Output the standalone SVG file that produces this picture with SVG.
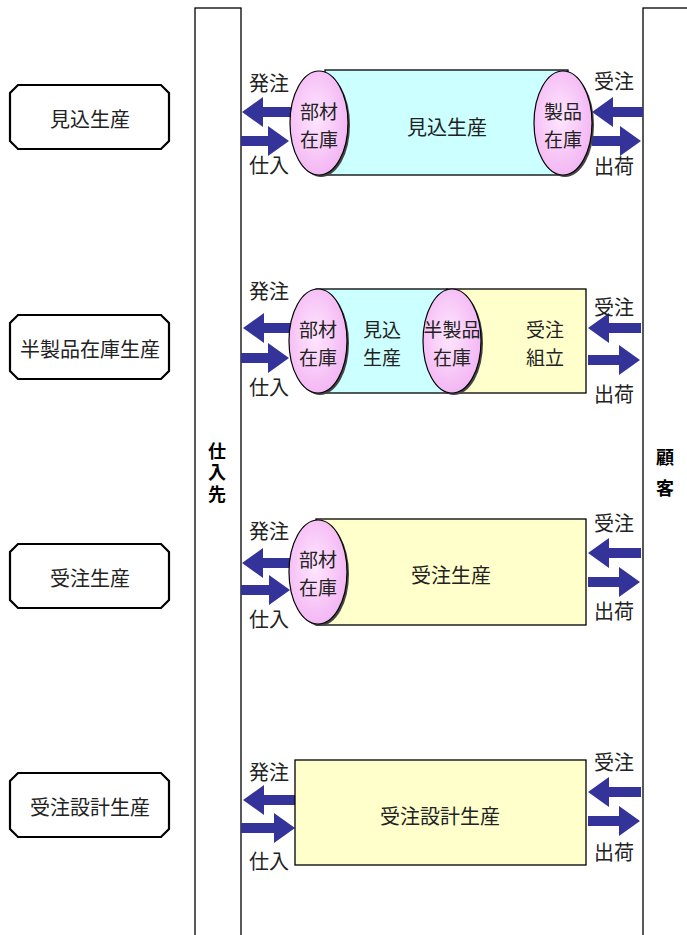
<svg xmlns="http://www.w3.org/2000/svg" width="687" height="935" viewBox="0 0 687 935">
<style>
text{font-family:"Noto Sans CJK JP","Noto Sans CJK SC",sans-serif;font-size:20px;fill:#222;text-anchor:middle;dominant-baseline:central}
.s{font-size:19px}
.b{font-weight:bold;fill:#000;font-size:18px;writing-mode:vertical-rl;text-anchor:start}
.col{fill:#fff;stroke:#000;stroke-width:1.3}
.oct{fill:#fff;stroke:#000;stroke-width:2.2}
.cy{fill:#ccffff;stroke:#000;stroke-width:1.3}
.ye{fill:#ffffcc;stroke:#000;stroke-width:1.3}
.ar{fill:#333399}
.el{fill:url(#pk);stroke:#000;stroke-width:1.2}
.sh{fill:#444}
</style>
<defs>
<radialGradient id="pk" cx="0.45" cy="0.45" r="0.6">
<stop offset="0" stop-color="#ffe6ff"/>
<stop offset="1" stop-color="#f2b3f2"/>
</radialGradient>
</defs>
<rect width="687" height="935" fill="#fff"/>
<g id="supplier"><rect class="col" x="195" y="8" width="46" height="940"/>
<text class="b" x="217" y="442" letter-spacing="3.5">仕入先</text></g>
<g id="customer"><rect class="col" x="643" y="8" width="60" height="940"/>
<text class="b" x="665" y="448" letter-spacing="13">顧客</text></g>

<g id="label1"><path class="oct" d="M18 85 H161 L169 93 V141 L161 149 H18 L10 141 V93 Z"/><text x="90" y="118">見込生産</text></g>
<g id="label2"><path class="oct" d="M18 315 H161 L169 323 V371 L161 379 H18 L10 371 V323 Z"/><text x="90" y="348" font-size="21">半製品在庫生産</text></g>
<g id="label3"><path class="oct" d="M18 544 H161 L169 552 V600 L161 608 H18 L10 600 V552 Z"/><text x="90" y="577">受注生産</text></g>
<g id="label4"><path class="oct" d="M18 773 H161 L169 781 V829 L161 837 H18 L10 829 V781 Z"/><text x="90" y="806">受注設計生産</text></g>

<g id="connectors">
<path class="ar" d="M242 112 l21 -15 v10 H294 v10 H263 v10 Z"/>
<path class="ar" d="M289 141 l-21 -15 v10 H241 v10 H268 v10 Z"/>
<path class="ar" d="M592 112 l21 -15 v10 H643 v10 H613 v10 Z"/>
<path class="ar" d="M641 141 l-21 -15 v10 H592 v10 H620 v10 Z"/>
<path class="ar" d="M243 328 l21 -15 v10 H295 v10 H264 v10 Z"/>
<path class="ar" d="M289 358 l-21 -15 v10 H241 v10 H268 v10 Z"/>
<path class="ar" d="M588 328 l21 -15 v10 H641 v10 H609 v10 Z"/>
<path class="ar" d="M640 360 l-21 -15 v10 H588 v10 H619 v10 Z"/>
<path class="ar" d="M242 563 l21 -15 v10 H295 v10 H263 v10 Z"/>
<path class="ar" d="M290 590 l-21 -15 v10 H241 v10 H269 v10 Z"/>
<path class="ar" d="M588 553 l21 -15 v10 H641 v10 H609 v10 Z"/>
<path class="ar" d="M640 582 l-21 -15 v10 H588 v10 H619 v10 Z"/>
<path class="ar" d="M243 800 l21 -15 v10 H295 v10 H264 v10 Z"/>
<path class="ar" d="M295 828 l-21 -15 v10 H241 v10 H274 v10 Z"/>
<path class="ar" d="M588 792 l21 -15 v10 H641 v10 H609 v10 Z"/>
<path class="ar" d="M640 821 l-21 -15 v10 H588 v10 H619 v10 Z"/>
</g>

<g id="row1">
<rect class="cy" x="325" y="70" width="243" height="105"/>
<text x="447" y="126">見込生産</text>
<ellipse class="sh" cx="321" cy="125" rx="29" ry="52"/>
<ellipse class="el" cx="319" cy="123" rx="29" ry="52"/>
<text class="s" x="319" y="110">部材<tspan x="319" dy="28">在庫</tspan></text>
<ellipse class="sh" cx="565" cy="125" rx="29" ry="52"/>
<ellipse class="el" cx="563" cy="123" rx="29" ry="52"/>
<text class="s" x="563" y="110">製品<tspan x="563" dy="28">在庫</tspan></text>
<text x="269" y="82">発注</text><text x="269" y="164">仕入</text>
<text x="614" y="80">受注</text><text x="614" y="165">出荷</text>
</g>

<g id="row2">
<rect class="cy" x="316" y="289" width="131" height="104"/>
<rect class="ye" x="447" y="289" width="139" height="104"/>
<text class="s" x="382" y="328">見込<tspan x="382" dy="28">生産</tspan></text>
<text class="s" x="545" y="328">受注<tspan x="545" dy="28">組立</tspan></text>
<ellipse class="sh" cx="320" cy="343" rx="29" ry="52"/>
<ellipse class="el" cx="318" cy="341" rx="29" ry="52"/>
<text class="s" x="318" y="328">部材<tspan x="318" dy="28">在庫</tspan></text>
<ellipse class="sh" cx="454" cy="343" rx="29" ry="52"/>
<ellipse class="el" cx="452" cy="341" rx="29" ry="52"/>
<text class="s" x="452" y="328">半製品<tspan x="452" dy="28">在庫</tspan></text>
<text x="269" y="290">発注</text><text x="269" y="386">仕入</text>
<text x="614" y="306">受注</text><text x="614" y="393">出荷</text>
</g>

<g id="row3">
<rect class="ye" x="316" y="519" width="270" height="106"/>
<text x="451" y="574">受注生産</text>
<ellipse class="sh" cx="320" cy="574" rx="29" ry="52"/>
<ellipse class="el" cx="318" cy="572" rx="29" ry="52"/>
<text class="s" x="318" y="558">部材<tspan x="318" dy="28">在庫</tspan></text>
<text x="269" y="530">発注</text><text x="269" y="618">仕入</text>
<text x="614" y="522">受注</text><text x="614" y="610">出荷</text>
</g>

<g id="row4">
<rect class="ye" x="295" y="760" width="291" height="105"/>
<text x="440" y="815">受注設計生産</text>
<text x="269" y="771">発注</text><text x="269" y="860">仕入</text>
<text x="614" y="761">受注</text><text x="614" y="851">出荷</text>
</g>
</svg>
